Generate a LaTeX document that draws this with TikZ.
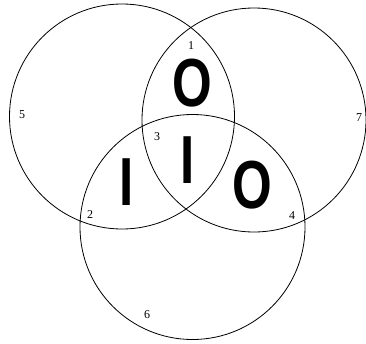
\documentclass[tikz,border=0pt]{standalone}
\usepackage{fontspec}
\setmainfont{Liberation Serif}
\newfontfamily\bigsans{Liberation Sans}
\newcommand{\narrowglyph}[1]{\scalebox{0.75}[1]{#1}}
\begin{document}
\begin{tikzpicture}[x=1pt,y=-1pt,
  ring/.style={draw=black,line width=0.8pt},
  lbl/.style={inner sep=0pt,font=\fontsize{12}{12}\selectfont},
  big/.style={inner sep=0pt,font=\bigsans\bfseries\fontsize{68}{68}\selectfont}]
\useasboundingbox (0,0) rectangle (366,343);
\node[ring,circle,minimum size=225pt,inner sep=0pt] (cl) at (122,116.5) {};
\node[ring,circle,minimum size=224pt,inner sep=0pt] (cr) at (254,120) {};
\node[ring,circle,minimum size=225pt,inner sep=0pt] (cb) at (192.5,227) {};
\node[lbl] (n1) at (191,46) {1};
\node[lbl] (n2) at (90,215) {2};
\node[lbl] (n3) at (157,137) {3};
\node[lbl] (n4) at (292,216) {4};
\node[lbl] (n5) at (22,115) {5};
\node[lbl] (n6) at (147,315) {6};
\node[lbl] (n7) at (359,118) {7};
\node[big] (o1) at (192,83) {\narrowglyph{O}};
\node[big] (i1) at (188,160) {\narrowglyph{I}};
\node[big] (i2) at (126.5,182) {\narrowglyph{I}};
\node[big] (o2) at (252,185) {\narrowglyph{O}};
\end{tikzpicture}
\end{document}
